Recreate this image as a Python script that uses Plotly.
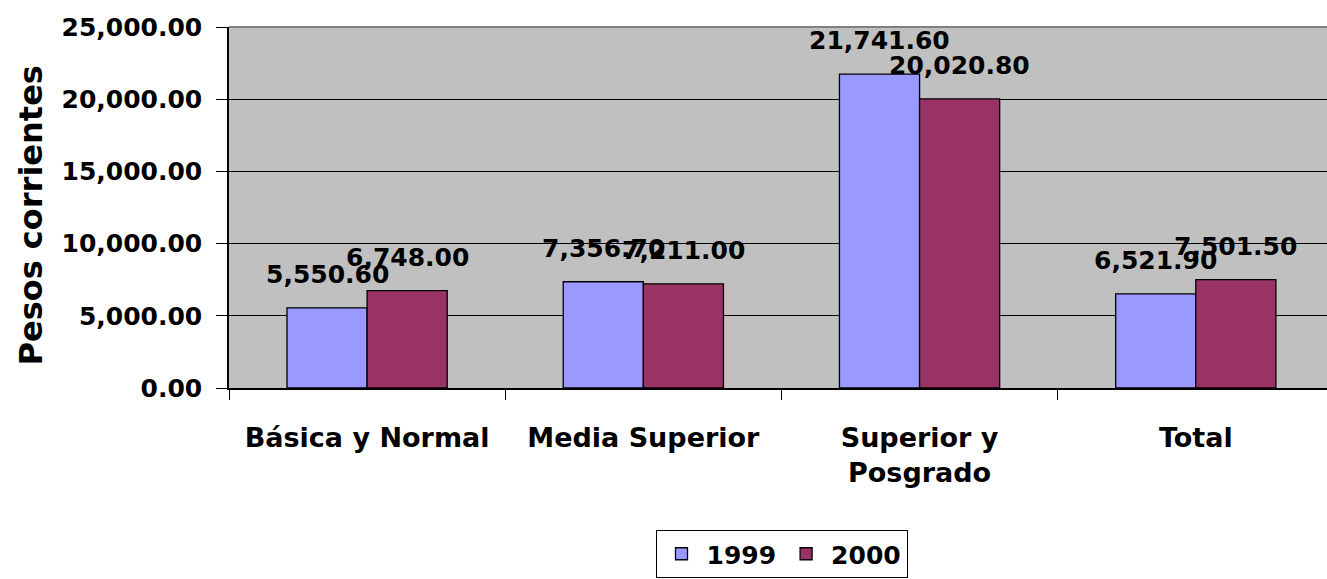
import plotly.graph_objects as go

# Gasto por alumno, pesos corrientes
categories = ["Básica y Normal", "Media Superior", "Superior y Posgrado", "Total"]
tick_labels = ["Básica y Normal", "Media Superior", "Superior y<br>Posgrado", "Total"]
years = ["1999", "2000"]
values_1999 = [5550.60, 7356.70, 21741.60, 6521.90]
values_2000 = [6748.00, 7211.00, 20020.80, 7501.50]
y_ticks = [0, 5000, 10000, 15000, 20000, 25000]

colors = {"1999": "#9999FF", "2000": "#993366"}
FONT = "DejaVu Sans"

W, H = 1327, 579
L, R, T, B = 229, 0, 27, 191
plot_w = W - L - R
plot_h = H - T - B
x_end = 3.475  # the last category runs slightly past the right edge
bargap = 0.42
cat_w = plot_w / (x_end + 0.5)
bar_w = cat_w * (1 - bargap) / 2

fig = go.Figure()
for year, vals in zip(years, [values_1999, values_2000]):
    fig.add_trace(go.Bar(
        name=year, x=categories, y=vals,
        marker=dict(color=colors[year], line=dict(color="black", width=1.3)),
    ))

# value labels above each bar
for i, (year, vals) in enumerate(zip(years, [values_1999, values_2000])):
    shift = (-0.5 if i == 0 else 0.5) * bar_w
    for cat, v in zip(categories, vals):
        fig.add_annotation(
            x=cat, y=v, xref="x", yref="y", text=f"{v:,.2f}",
            showarrow=False, xanchor="center", yanchor="bottom",
            xshift=shift, yshift=17,
            font=dict(family=FONT, size=25, color="black", weight="bold"),
        )

# y axis title
fig.add_annotation(
    x=0, y=0.5, xref="paper", yref="paper", text="Pesos corrientes",
    textangle=-90, showarrow=False, xanchor="center", yanchor="middle",
    xshift=-(L - 30), yshift=-8,
    font=dict(family=FONT, size=32, color="black", weight="bold"),
)

# top border of the plot area
fig.add_shape(type="line", xref="paper", yref="paper", x0=0, x1=1, y0=1, y1=1,
              line=dict(color="#808080", width=2), layer="above")

fig.update_layout(
    width=W, height=H,
    margin=dict(l=L, r=R, t=T, b=B),
    paper_bgcolor="white", plot_bgcolor="#C0C0C0",
    barmode="group", bargap=bargap, bargroupgap=0,
    showlegend=True,
    legend=dict(
        orientation="h", xanchor="center", yanchor="top",
        x=(781.5 - L) / plot_w, y=-(530 - (T + plot_h)) / plot_h,
        bordercolor="black", borderwidth=1, bgcolor="white",
        itemwidth=40,
        font=dict(family=FONT, size=25, color="black", weight="bold"),
    ),
    xaxis=dict(
        tickmode="array", tickvals=categories, ticktext=tick_labels,
        tickson="boundaries", ticks="outside", ticklen=10, tickcolor="black",
        showline=True, linecolor="black", linewidth=1.5,
        tickfont=dict(family=FONT, size=27, color="black", weight="bold"),
        ticklabelstandoff=25,
        range=[-0.5, x_end],
    ),
    yaxis=dict(
        range=[0, 25000], tickvals=y_ticks, tickformat=",.2f",
        ticks="outside", ticklen=11, tickcolor="black",
        showline=True, linecolor="black", linewidth=1.5,
        showgrid=True, gridcolor="black", gridwidth=1,
        zeroline=False,
        tickfont=dict(family=FONT, size=25, color="black", weight="bold"),
        ticklabelstandoff=9,
    ),
)

fig.write_html("out.html")
